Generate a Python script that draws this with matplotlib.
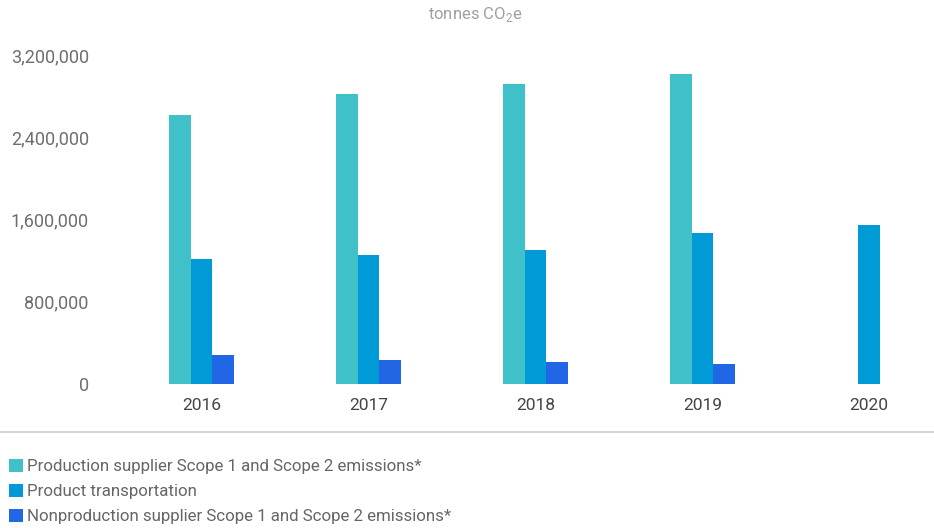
import numpy as np
import matplotlib
matplotlib.use('Agg')
import matplotlib.pyplot as plt
from matplotlib.lines import Line2D
from matplotlib.ticker import FuncFormatter

years = ['2016', '2017', '2018', '2019', '2020']
production = [2615000, 2820000, 2920000, 3015000, np.nan]
transport = [1215000, 1255000, 1300000, 1470000, 1545000]
nonproduction = [282000, 233000, 214000, 195000, np.nan]
labels = ['Production supplier Scope 1 and Scope 2 emissions*',
          'Product transportation',
          'Nonproduction supplier Scope 1 and Scope 2 emissions*']
colors = ['#40C1C9', '#009AD6', '#2166E5']
yticks = [0, 800000, 1600000, 2400000, 3200000]

plt.rcParams['font.family'] = ['Roboto', 'DejaVu Sans']
plt.rcParams['mathtext.fontset'] = 'custom'
plt.rcParams['mathtext.rm'] = 'Roboto'

fig = plt.figure(figsize=(9.34, 5.28), dpi=100)
ax = fig.add_axes([118 / 934, (528 - 384) / 528, 818 / 934, 329 / 528])

x = np.arange(len(years))
w = 0.129
bars = []
for i, (vals, col) in enumerate(zip([production, transport, nonproduction], colors)):
    b = ax.bar(x + (i - 1) * w, vals, width=w, color=col, label=labels[i], linewidth=0)
    bars.append(b)

ax.set_xlim(-0.5, 4.4)
ax.set_ylim(0, 3200000)
ax.set_yticks(yticks)
ax.yaxis.set_major_formatter(FuncFormatter(lambda v, p: '{:,.0f}'.format(v)))
ax.set_xticks(x)
ax.set_xticklabels(years)
for s in ax.spines.values():
    s.set_visible(False)
ax.tick_params(axis='y', length=0, pad=21, labelsize=13, labelcolor='#6e6e6e')
ax.tick_params(axis='x', length=0, pad=10, labelsize=12.5, labelcolor='#444444')

fig.text(475 / 934, 1 - 15 / 528, 'tonnes CO$_2$e', ha='center', va='center',
         fontsize=12, color='#a0a0a0')

fig.add_artist(Line2D([0, 1], [1 - 432 / 528, 1 - 432 / 528], color='#cccccc', lw=1.2))

leg = fig.legend(handles=bars, labels=labels, loc='upper left',
                 bbox_to_anchor=(2 / 934, 1 - 452 / 528), frameon=False,
                 fontsize=12.2, labelcolor='#666666', handlelength=0.85, handleheight=0.85,
                 handletextpad=0.2, labelspacing=0.55, borderaxespad=0)

fig.savefig('out.png', dpi=100)
